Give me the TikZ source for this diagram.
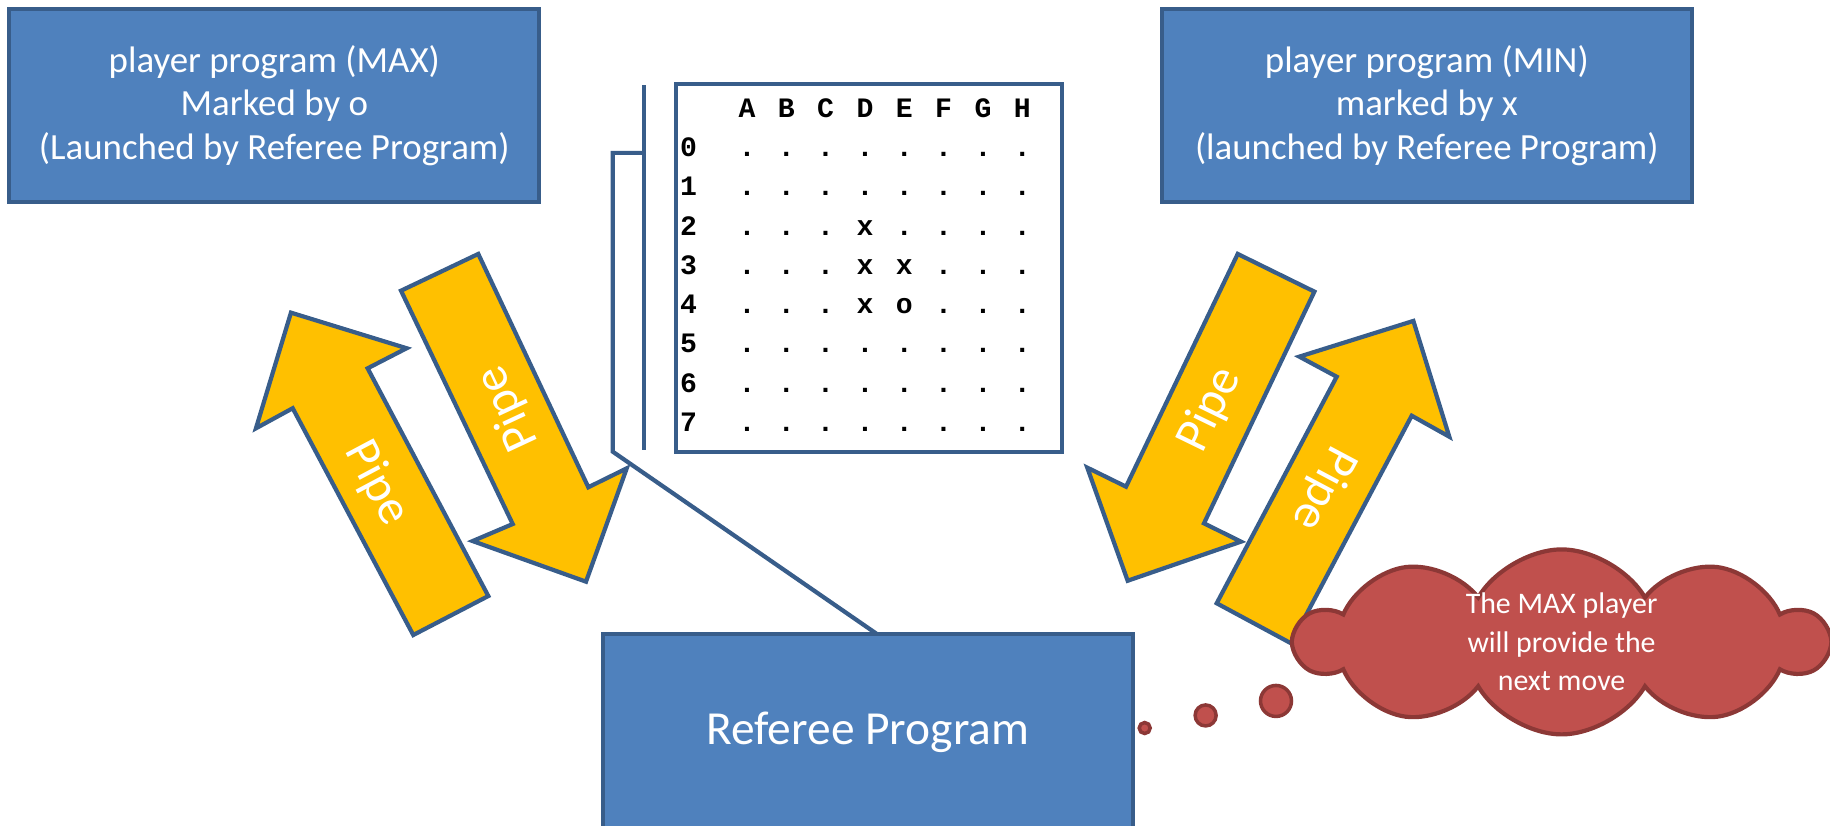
\documentclass[tikz,border=0pt]{standalone}
\usepackage{fontspec}
\setmainfont{Carlito}
\newfontfamily\boardfont{Liberation Mono}
\usepackage{tikz}
\usetikzlibrary{positioning, shapes.symbols}

\definecolor{boxblue}{HTML}{4F81BD}
\definecolor{edgeblue}{HTML}{385D8A}
\definecolor{pipegold}{HTML}{FFC000}
\definecolor{cloudred}{HTML}{C0504D}
\definecolor{cloudedge}{HTML}{8C3836}

\tikzset{
	prog/.style={draw=edgeblue, fill=boxblue, line width=1.2pt, text=white, align=center,
		minimum width=5.3cm, minimum height=1.93cm, font=\fontsize{10.5}{12.5}\selectfont},
	pipe/.style={draw=edgeblue, fill=pipegold, line width=1.2pt, line join=miter},
	pipetext/.style={text=white, inner sep=0pt, font=\fontsize{14}{16}\selectfont},
	wire/.style={draw=edgeblue, line width=1.2pt},
	cell/.style={anchor=base, inner sep=0pt, font=\boardfont\bfseries\fontsize{8}{8}\selectfont},
	puff/.style={circle, draw=cloudedge, fill=cloudred, line width=1pt, inner sep=0pt},
}

\begin{document}
\begin{tikzpicture}[x=0.011671cm, y=-0.011671cm]
		\clip (0,0) rectangle (1568,707);

		\node (MAX) [prog] at (235,90.5) {player program (MAX)\\Marked by o\\(Launched by Referee Program)};
		\node (MIN) [prog] at (1222.5,90.5) {player program (MIN)\\marked by x\\(launched by Referee Program)};
		\node (REF) [prog, minimum height=1.98cm, font=\fontsize{13.5}{16}\selectfont] at (743.5,627.8) {Referee Program};

		\node (B) [wire, fill=white, minimum width=3.863cm, minimum height=3.676cm] at (744.5,229.5) {};
		\foreach \c [count=\i from 0] in {A,B,C,D,E,F,G,H}
			\node (h\c) [cell] at (640+33.7*\i,101) {\c};
		\foreach \cells [count=\r from 0] in {
			{.,.,.,.,.,.,.,.},
			{.,.,.,.,.,.,.,.},
			{.,.,.,x,.,.,.,.},
			{.,.,.,x,x,.,.,.},
			{.,.,.,x,o,.,.,.},
			{.,.,.,.,.,.,.,.},
			{.,.,.,.,.,.,.,.},
			{.,.,.,.,.,.,.,.}}
		{
			\node (r\r) [cell] at (590,134.3+33.6*\r) {\r};
			\foreach \m [count=\i from 0] in \cells
				\node (s\r\i) [cell] at (640+33.7*\i,134.3+33.6*\r) {\m};
		}

		\coordinate (k1) at (551.8,73);
		\coordinate (k2) at (551.8,386);
		\coordinate (k3) at (551.8,131);
		\coordinate (k4) at (525,131);
		\coordinate (k5) at (525,387);
		\coordinate (k6) at (751,543);
		\draw[wire] (k1) -- (k2);
		\draw[wire] (k3) -- (k4) -- (k5) -- (k6);

		\draw[pipe] (249.3,267.9) -- (348.4,298.4) -- (315.0,315.6) -- (418.4,510.7)
			-- (354.1,544.1) -- (250.8,349.8) -- (219.3,367.0) -- cycle;
		\draw[pipe] (343.6,249.1) -- (409.8,217.6) -- (504.1,417.5) -- (537.0,401.3)
			-- (502.1,498.4) -- (405.0,463.6) -- (439.3,449.0) -- cycle;
		\draw[pipe] (1060.5,217.6) -- (1126.2,249.9) -- (1031.6,448.4) -- (1063.3,464.1)
			-- (966.2,497.6) -- (931.6,400.7) -- (964.8,417.0) -- cycle;
		\draw[pipe] (1113.3,305.6) -- (1211,275) -- (1241.8,374.2) -- (1209.6,356.2)
			-- (1106.2,551.2) -- (1042.5,516.9) -- (1145.3,322.8) -- cycle;

		\node (P1) [pipetext, rotate=-62] at (322.7,414.1) {Pipe};
		\node (P2) [pipetext, rotate=115] at (435.5,349.9) {Pipe};
		\node (P3) [pipetext, rotate=64] at (1036.8,351.3) {Pipe};
		\node (P4) [pipetext, rotate=-118] at (1133.9,418.4) {Pipe};

		\node (T1) [puff, minimum size=0.11cm] at (980.8,623.8) {};
		\node (T2) [puff, minimum size=0.21cm] at (1033,613) {};
		\node (T3) [puff, minimum size=0.31cm] at (1093.3,600.6) {};
		\node (C) [cloud, cloud puffs=10, cloud puff arc=120, aspect=3, cloud ignores aspect,
			draw=cloudedge, fill=cloudred, line width=1.2pt, inner sep=0pt,
			minimum width=5.3cm, minimum height=1.85cm, text=white, align=center,
			font=\fontsize{8.5}{11}\selectfont] at (1338,550) {The MAX player\\will provide the\\next move};
\end{tikzpicture}
\end{document}
